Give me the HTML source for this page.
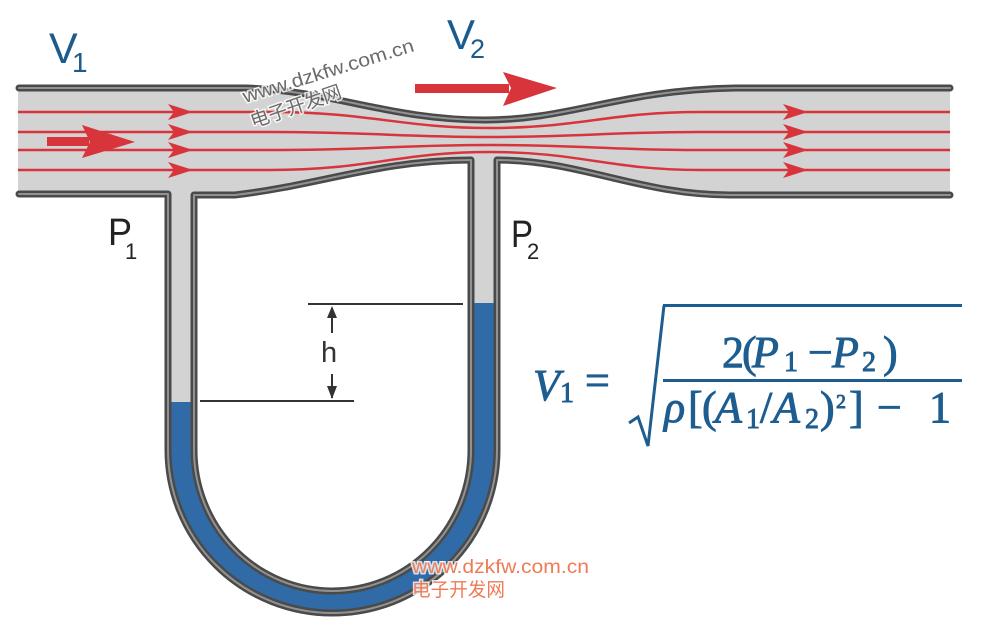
<!DOCTYPE html>
<html><head><meta charset="utf-8"><style>
html,body{margin:0;padding:0;background:#fff;}
svg{display:block;}
</style></head><body>
<svg width="982" height="631" viewBox="0 0 982 631" xmlns="http://www.w3.org/2000/svg">
<defs>
<clipPath id="liq"><rect x="0" y="402" width="332.5" height="240"/><rect x="332.5" y="303" width="300" height="340"/></clipPath>
</defs>
<rect width="982" height="631" fill="#fff"/>
<!-- channel fill -->
<path d="M18,88 L245,88 C330,90 390,120 485,120 C570,120 620,90 735,88 L950,88 L950,195 L730,195 C640,195 580,160 497,160 L497,450 A164.5,163 0 0 1 168,450 L168,194 L18,194 Z M194,195 L235,195 C320,185 380,160 471,160 L471,450 A138.5,141 0 0 1 194,450 Z" fill="#d3d3d3" fill-rule="evenodd"/>
<path clip-path="url(#liq)" d="M18,88 L245,88 C330,90 390,120 485,120 C570,120 620,90 735,88 L950,88 L950,195 L730,195 C640,195 580,160 497,160 L497,450 A164.5,163 0 0 1 168,450 L168,194 L18,194 Z M194,195 L235,195 C320,185 380,160 471,160 L471,450 A138.5,141 0 0 1 194,450 Z" fill="#306ba8" fill-rule="evenodd"/>

<!-- streamlines -->
<g fill="none" stroke="#d8343c" stroke-width="2.5">
<path d="M18,112 L270,112 C370,112 400,128 490,128 C580,128 610,112 700,112 L950,112"/>
<path d="M18,132 L270,132 C370,132 400,137 490,137 C580,137 610,132 700,132 L950,132"/>
<path d="M18,150 L270,150 C370,150 400,145 490,145 C580,145 610,150 700,150 L950,150"/>
<path d="M18,170 L270,170 C370,170 400,152 490,152 C580,152 610,170 700,170 L950,170"/>
</g>
<g fill="#d8343c">
<path d="M168,104 L193,112 L168,120 L174,112 Z"/>
<path d="M168,124 L193,132 L168,140 L174,132 Z"/>
<path d="M168,142 L193,150 L168,158 L174,150 Z"/>
<path d="M168,162 L193,170 L168,178 L174,170 Z"/>
<path d="M783,104 L808,112 L783,120 L789,112 Z"/>
<path d="M783,124 L808,132 L783,140 L789,132 Z"/>
<path d="M783,142 L808,150 L783,158 L789,150 Z"/>
<path d="M783,162 L808,170 L783,178 L789,170 Z"/>
<!-- big arrow left -->
<rect x="47" y="137" width="42" height="9"/>
<path d="M82,125 L135,142 L82,158 L90,142 Z"/>
<!-- top arrow -->
<rect x="415" y="84" width="94" height="9"/>
<path d="M503,72 L557,88 L503,106 L511,88 Z"/>
</g>

<!-- walls -->
<g fill="none" stroke="#4a4a4a" stroke-width="7" stroke-linejoin="round" stroke-linecap="round">
<path d="M19,88 L245,88 C330,90 390,120 485,120 C570,120 620,90 735,88 L950,88"/>
<path d="M19,194 L168,194 L168,450 A164.5,163 0 0 0 497,450 L497,160 C580,160 640,195 730,195 L950,195"/>
<path d="M194,195 L235,195 C320,185 380,160 471,160 L471,450 A138.5,141 0 0 1 194,450 Z"/>
</g>
<g fill="none" stroke="#929292" stroke-width="2" stroke-linejoin="round" stroke-linecap="round">
<path d="M19,88 L245,88 C330,90 390,120 485,120 C570,120 620,90 735,88 L950,88"/>
<path d="M19,194 L168,194 L168,450 A164.5,163 0 0 0 497,450 L497,160 C580,160 640,195 730,195 L950,195"/>
<path d="M194,195 L235,195 C320,185 380,160 471,160 L471,450 A138.5,141 0 0 1 194,450 Z"/>
</g>

<!-- h indicator -->
<g stroke="#333" stroke-width="2" fill="none">
<line x1="308" y1="304" x2="463" y2="304"/>
<line x1="200" y1="401" x2="354" y2="401"/>
<line x1="332" y1="308" x2="332" y2="333"/>
<line x1="332" y1="374" x2="332" y2="398"/>
</g>
<g fill="#333">
<path d="M327,318 L332,306 L337,318 Z"/>
<path d="M327,386 L332,399 L337,386 Z"/>
</g>
<text x="321" y="362" font-family="Liberation Sans, sans-serif" font-size="29" fill="#333">h</text>

<!-- P labels -->
<g font-family="Liberation Sans, sans-serif" fill="#222">
<text x="108" y="245" font-size="38" textLength="24" lengthAdjust="spacingAndGlyphs">P</text>
<text x="125" y="259" font-size="22">1</text>
<text x="511" y="247" font-size="38" textLength="22" lengthAdjust="spacingAndGlyphs">P</text>
<text x="527" y="259" font-size="22">2</text>
</g>

<!-- V labels -->
<g font-family="Liberation Sans, sans-serif" fill="#1b5c8d">
<text x="49" y="63" font-size="43">V</text>
<text x="72" y="72" font-size="28">1</text>
<text x="447" y="49" font-size="42">V</text>
<text x="470" y="58" font-size="27">2</text>
</g>

<!-- formula -->
<g font-family="Liberation Serif, serif" fill="#1e5d90" stroke="#1e5d90" stroke-width="0.9">
<text x="533" y="400" font-size="44" font-style="italic">V</text>
<text x="560" y="402" font-size="28">1</text>
<text x="585" y="395" font-size="44">=</text>
<text x="722" y="367" font-size="44">2</text>
<text x="742" y="367" font-size="44">(</text>
<text x="752" y="367" font-size="44" font-style="italic">P</text>
<text x="784" y="371" font-size="28">1</text>
<text x="808" y="367" font-size="44">−</text>
<text x="832" y="367" font-size="44" font-style="italic">P</text>
<text x="862" y="371" font-size="28">2</text>
<text x="883" y="367" font-size="44">)</text>
<text x="664" y="422" font-size="44" font-style="italic">ρ</text>
<text x="688" y="422" font-size="44">[</text>
<text x="702" y="422" font-size="44">(</text>
<text x="715" y="422" font-size="44" font-style="italic">A</text>
<text x="746" y="428" font-size="28">1</text>
<text x="760" y="422" font-size="44">/</text>
<text x="773" y="422" font-size="44" font-style="italic">A</text>
<text x="805" y="428" font-size="28">2</text>
<text x="820" y="422" font-size="44">)</text>
<text x="836" y="408" font-size="20">2</text>
<text x="849" y="422" font-size="44">]</text>
<text x="877" y="422" font-size="44">−</text>
<text x="929" y="422" font-size="44">1</text>
</g>
<g fill="#1e5d90">
<rect x="663" y="379" width="299" height="3"/>
<rect x="663" y="304" width="299" height="3"/>
</g>
<path d="M629,423 L638,417 L648,446 L664,305.5" fill="none" stroke="#1e5d90" stroke-width="3" stroke-linejoin="miter"/>

<!-- watermarks -->
<g font-family="Liberation Sans, 'Noto Sans CJK SC', sans-serif" stroke="#fff" stroke-width="3" stroke-opacity="0.8" paint-order="stroke">
<text x="245" y="103" transform="rotate(-17 245 103)" font-size="19" fill="#6a6a6a" textLength="178" lengthAdjust="spacingAndGlyphs">www.dzkfw.com.cn</text>
<text x="253" y="128" transform="rotate(-19 253 128)" font-size="19" fill="#6a6a6a" textLength="95" lengthAdjust="spacingAndGlyphs">电子开发网</text>
<text x="412" y="573" font-size="19" fill="#ef7b56" textLength="177" lengthAdjust="spacingAndGlyphs">www.dzkfw.com.cn</text>
<text x="412" y="596" font-size="19" fill="#ef7b56" textLength="93" lengthAdjust="spacingAndGlyphs">电子开发网</text>
</g>
</svg>
</body></html>
